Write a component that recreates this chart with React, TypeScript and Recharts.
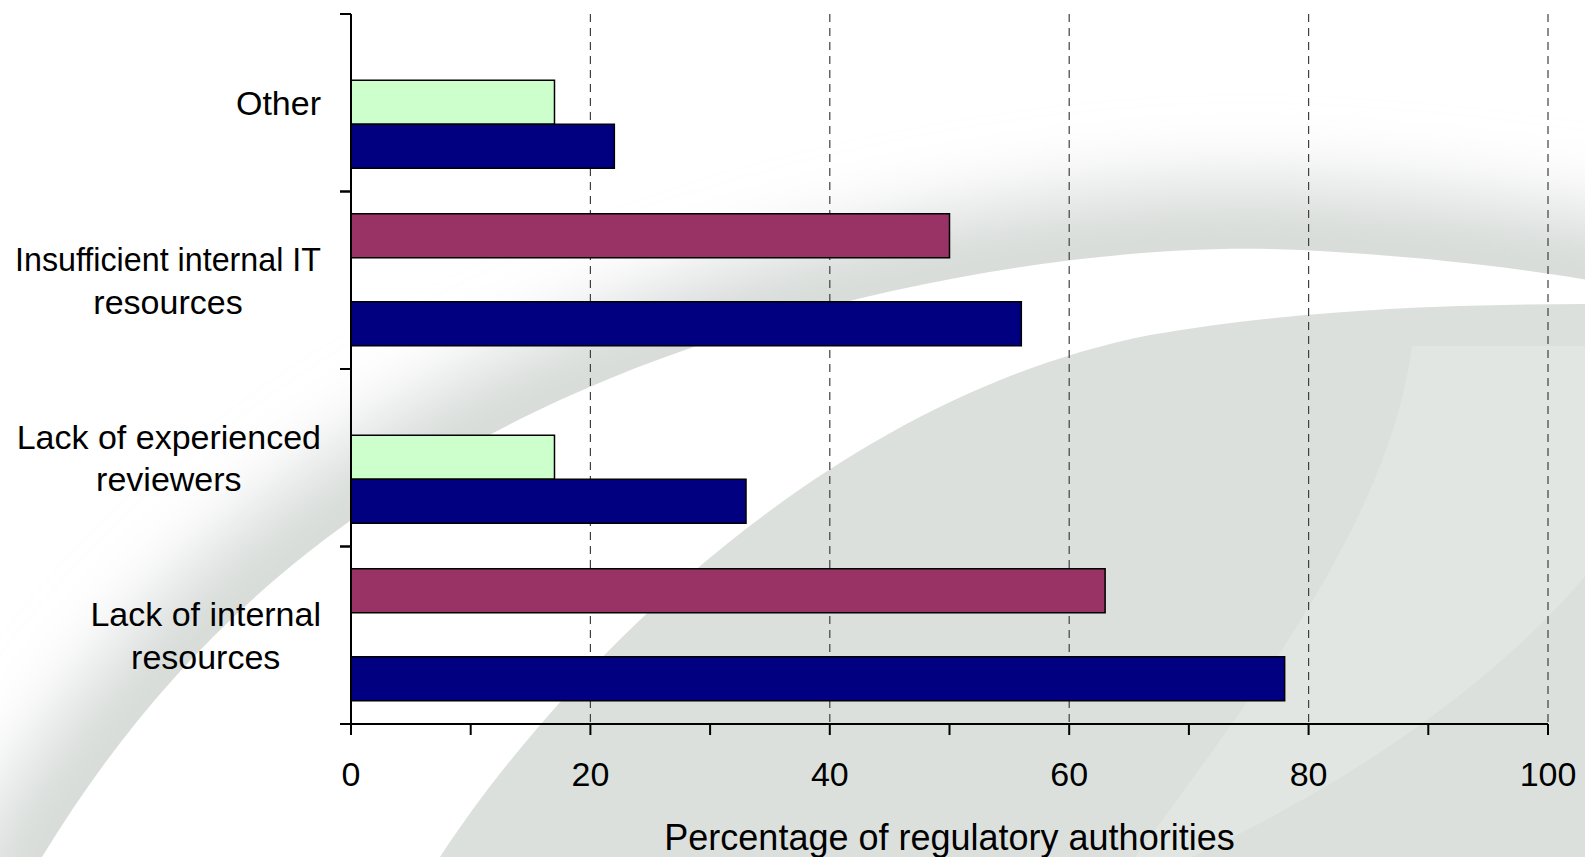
import React from "react";
import { BarChart, Bar, XAxis, YAxis, CartesianGrid } from "recharts";

// Causes, listed top to bottom
const causes = [
  "Other",
  "Insufficient internal IT\nresources",
  "Lack of experienced\nreviewers",
  "Lack of internal\nresources",
];

// Share of regulatory authorities (%) per respondent group; null = not asked / no answer
const groupA = [22, 56, 33, 78];
const groupB = [null, 50, null, 63];
const groupC = [17, null, 17, null];

const xTicks = [0, 10, 20, 30, 40, 50, 60, 70, 80, 90, 100];
const gridValues = [20, 40, 60, 80, 100];

const FONT = '"Liberation Sans", Arial, Helvetica, sans-serif';
const W = 1585;
const H = 857;
const LABEL_MAX = 306;

const data = causes.map((cause, i) => ({
  cause,
  groupA: groupA[i],
  groupB: groupB[i],
  groupC: groupC[i],
}));

let measureCtx: CanvasRenderingContext2D | null = null;
function textWidth(s: string, size: number) {
  if (!measureCtx) measureCtx = document.createElement("canvas").getContext("2d");
  if (!measureCtx) return s.length * size * 0.5;
  measureCtx.font = `${size}px ${FONT}`;
  return measureCtx.measureText(s).width;
}

// Category label: centred lines, block right-aligned; tick marks sit between categories
function CauseTick(props: any) {
  const { x, y, payload } = props;
  const half = payload?.offset ?? 88.75;
  const lines = String(payload.value).split("\n");
  const size = 34;
  const widths = lines.map((l) => Math.min(textWidth(l, size), LABEL_MAX));
  const block = Math.max(...widths);
  const cx = x - 19 - block / 2;
  const lh = 42.7;
  return (
    <g>
      <line x1={x} x2={x + 11} y1={y - half} y2={y - half} stroke="#000" strokeWidth={2} />
      <line x1={x} x2={x + 11} y1={y + half} y2={y + half} stroke="#000" strokeWidth={2} />
      {lines.map((l, i) => {
        const squeeze = textWidth(l, size) > LABEL_MAX;
        return (
          <text
            key={i}
            x={cx}
            y={y + (i - (lines.length - 1) / 2) * lh + 12.2}
            textAnchor="middle"
            fontSize={size}
            fontFamily={FONT}
            fill="#000"
            textLength={squeeze ? LABEL_MAX : undefined}
            lengthAdjust={squeeze ? "spacingAndGlyphs" : undefined}
          >
            {l}
          </text>
        );
      })}
    </g>
  );
}

// Grey swoosh artwork behind the plot
function Backdrop() {
  const edge =
    "M 2 922 L 42 857 C 150 680, 300 520, 560 400 C 800 290, 1100 240, 1300 250 C 1420 256, 1520 268, 1600 282 L 1700 300";
  return (
    <svg width={W} height={H} style={{ position: "absolute", left: 0, top: 0 }}>
      <defs>
        <filter id="soft" filterUnits="userSpaceOnUse" x={-300} y={-300} width={2300} height={1600}>
          <feGaussianBlur stdDeviation={38} />
        </filter>
        <clipPath id="outer">
          <path d={edge + " L 1700 -20 L -20 -20 L -20 922 Z"} />
        </clipPath>
      </defs>
      <rect width={W} height={H} fill="#fff" />
      <g clipPath="url(#outer)">
        <path d={edge} fill="none" stroke="#d5dad7" strokeWidth={130} filter="url(#soft)" />
      </g>
      <path
        d="M 440 857 C 555 680, 820 400, 1150 335 C 1280 312, 1430 304, 1600 304 L 1600 870 L 440 870 Z"
        fill="#dbe0dd"
      />
      <path
        d="M 1412 346 L 1600 346 L 1600 558 C 1520 660, 1380 770, 1185 860 L 1133 860 C 1250 700, 1390 520, 1412 346 Z"
        fill="#e2e6e3"
      />
    </svg>
  );
}

export default function App() {
  return (
    <div
      style={{
        position: "absolute",
        left: 0,
        top: 0,
        width: W,
        height: H,
        overflow: "hidden",
        background: "#fff",
        fontFamily: FONT,
      }}
    >
      <Backdrop />
      <div style={{ position: "absolute", left: 0, top: 0 }}>
        <BarChart
          width={W}
          height={H}
          data={data}
          layout="vertical"
          margin={{ top: 14, right: 37, bottom: 0, left: 0 }}
          barCategoryGap="12.5%"
          barGap={0}
        >
          <CartesianGrid
            horizontal={false}
            vertical
            verticalValues={gridValues}
            stroke="#404040"
            strokeWidth={1.2}
            strokeDasharray="8 6"
          />
          <XAxis
            type="number"
            domain={[0, 100]}
            ticks={xTicks}
            interval={0}
            tickFormatter={(v: number) => (v % 20 === 0 ? String(v) : "")}
            axisLine={{ stroke: "#000", strokeWidth: 2 }}
            tickLine={{ stroke: "#000", strokeWidth: 2 }}
            tickSize={11}
            tickMargin={27}
            tick={{ fontSize: 34, fill: "#000", fontFamily: FONT }}
            height={133}
            label={{
              value: "Percentage of regulatory authorities",
              position: "insideBottom",
              offset: 7,
              fontSize: 36,
              fill: "#000",
              fontFamily: FONT,
            }}
          />
          <YAxis
            type="category"
            dataKey="cause"
            width={351}
            interval={0}
            axisLine={{ stroke: "#000", strokeWidth: 2 }}
            tickLine={false}
            tickSize={11}
            tickMargin={0}
            tick={<CauseTick />}
          />
          <Bar dataKey="groupB" fill="#993366" stroke="#000" strokeWidth={1.5} isAnimationActive={false} />
          <Bar dataKey="groupC" fill="#CCFFCC" stroke="#000" strokeWidth={1.5} isAnimationActive={false} />
          <Bar dataKey="groupA" fill="#000080" stroke="#000" strokeWidth={1.5} isAnimationActive={false} />
        </BarChart>
      </div>
    </div>
  );
}
